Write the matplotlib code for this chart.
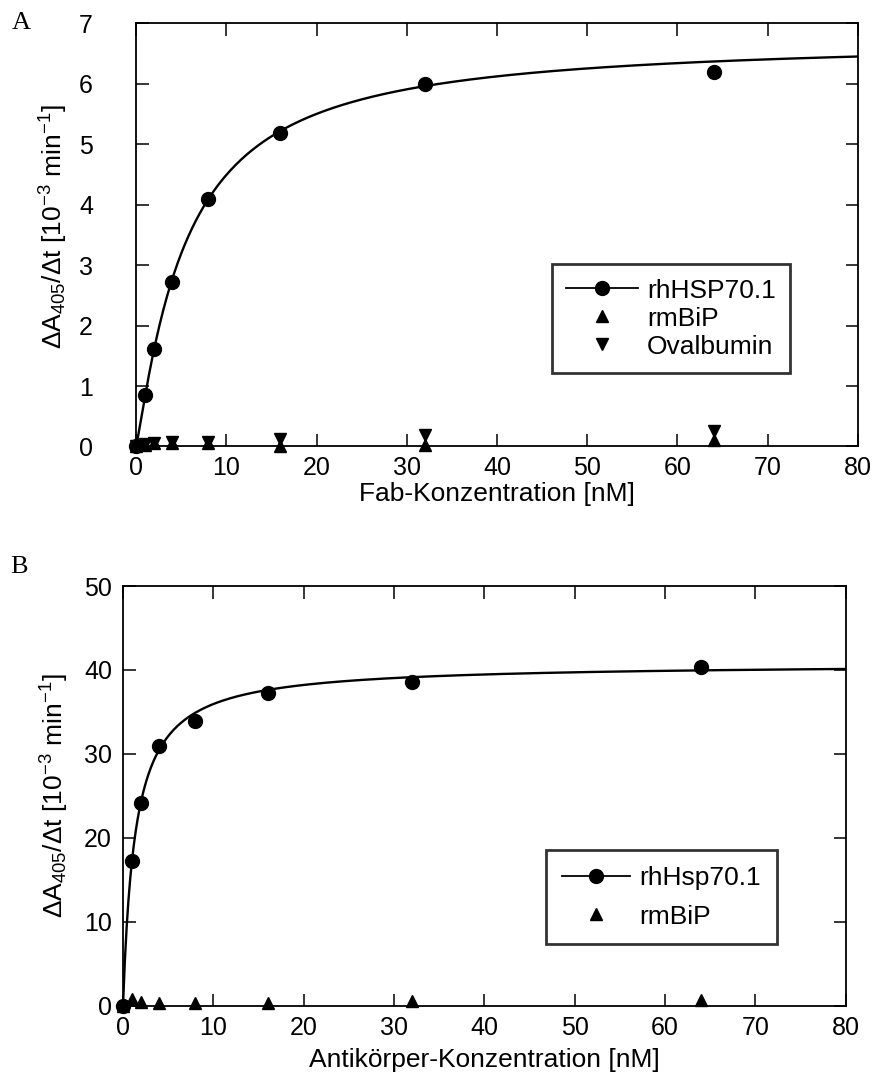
import numpy as np
import matplotlib
matplotlib.use("Agg")
import matplotlib.pyplot as plt
from matplotlib.lines import Line2D

plt.rcParams['font.family'] = ['Liberation Sans', 'DejaVu Sans']
plt.rcParams['mathtext.fontset'] = 'custom'
plt.rcParams['mathtext.rm'] = 'Liberation Sans'
plt.rcParams['mathtext.it'] = 'Liberation Sans'

# Panel A data (Fab)
conc_a = [0, 1, 2, 4, 8, 16, 32, 64]
hsp_a = [0, 0.85, 1.62, 2.72, 4.1, 5.18, 6.0, 6.2]
bip_a = [0, 0.03, 0.05, 0.06, 0.06, 0.0, 0.02, 0.1]
ova_a = [0, 0.04, 0.05, 0.07, 0.07, 0.13, 0.19, 0.25]
fit_a = dict(vmax=6.75, k=5.5, n=1.15)

# Panel B data (Antikoerper)
conc_b = [0, 1, 2, 4, 8, 16, 32, 64]
hsp_b = [0, 17.2, 24.2, 31.0, 33.9, 37.3, 38.6, 40.3]
bip_b = [0, 0.8, 0.5, 0.3, 0.4, 0.3, 0.6, 0.7]
fit_b = dict(vmax=40.8, k=1.35, n=1.0)

FS = 19
TFS = 18
YLAB = r'$\Delta$A$_{405}$/$\Delta$t [10$^{-3}$ min$^{-1}$]'


def hill(x, vmax, k, n):
    return vmax * x**n / (k**n + x**n)


def style_axes(ax, ypad):
    for s in ax.spines.values():
        s.set_linewidth(1.3)
    ax.tick_params(direction='in', length=9, width=1.1, top=True, right=True,
                   labelsize=TFS)
    ax.tick_params(axis='x', pad=7)
    ax.tick_params(axis='y', pad=ypad)


fig = plt.figure(figsize=(8.73, 10.86), dpi=100)
xx = np.linspace(0, 80, 400)

# ---- A
ax1 = fig.add_axes([0.1558, 0.5889, 0.827, 0.3895])
ax1.plot(xx, hill(xx, **fit_a), color='black', lw=1.7)
ax1.plot(conc_a, hsp_a, 'o', color='black', ms=10, clip_on=False)
ax1.plot(conc_a, bip_a, '^', color='black', ms=9, clip_on=False)
ax1.plot(conc_a, ova_a, 'v', color='black', ms=9, clip_on=False)
ax1.set_xlim(0, 80)
ax1.set_ylim(0, 7)
ax1.set_xticks(range(0, 81, 10))
ax1.set_yticks(range(0, 8))
ax1.set_xlabel('Fab-Konzentration [nM]', fontsize=FS, labelpad=1)
ax1.set_ylabel(YLAB, fontsize=FS)
ax1.yaxis.set_label_coords(-0.091, 0.52)
style_axes(ax1, 31)
h1 = [Line2D([], [], color='black', lw=1.3, marker='o', ms=10),
      Line2D([], [], ls='none', marker='^', color='black', ms=9),
      Line2D([], [], ls='none', marker='v', color='black', ms=9)]
leg1 = ax1.legend(h1, ['rhHSP70.1', 'rmBiP', 'Ovalbumin'], loc='upper left',
                  bbox_to_anchor=(0.576, 0.431), borderaxespad=0, fontsize=FS,
                  frameon=True, fancybox=False, edgecolor='black',
                  handlelength=2.7, labelspacing=0.15, borderpad=0.55,
                  handletextpad=0.35)
leg1.get_frame().set_linewidth(2)

# ---- B
ax2 = fig.add_axes([0.1409, 0.0737, 0.828, 0.3867])
ax2.plot(xx, hill(xx, **fit_b), color='black', lw=1.7)
ax2.plot(conc_b, hsp_b, 'o', color='black', ms=10, clip_on=False)
ax2.plot(conc_b, bip_b, '^', color='black', ms=9, clip_on=False)
ax2.set_xlim(0, 80)
ax2.set_ylim(0, 50)
ax2.set_xticks(range(0, 81, 10))
ax2.set_yticks(range(0, 51, 10))
ax2.set_xlabel('Antikörper-Konzentration [nM]', fontsize=FS, labelpad=6)
ax2.set_ylabel(YLAB, fontsize=FS)
ax2.yaxis.set_label_coords(-0.072, 0.5)
style_axes(ax2, 8)
h2 = [Line2D([], [], color='black', lw=1.3, marker='o', ms=10),
      Line2D([], [], ls='none', marker='^', color='black', ms=9)]
leg2 = ax2.legend(h2, ['rhHsp70.1', 'rmBiP'], loc='upper left',
                  bbox_to_anchor=(0.585, 0.371), borderaxespad=0, fontsize=FS,
                  frameon=True, fancybox=False, edgecolor='black',
                  handlelength=2.6, labelspacing=0.55, borderpad=0.6,
                  handletextpad=0.35)
leg2.get_frame().set_linewidth(2)

fig.text(12 / 873, 1 - 23 / 1086, 'A', fontsize=FS, family='Liberation Serif', va='center')
fig.text(10 / 873, 1 - 567 / 1086, 'B', fontsize=FS, family='Liberation Serif', va='center')

fig.savefig('out.png', dpi=100)
